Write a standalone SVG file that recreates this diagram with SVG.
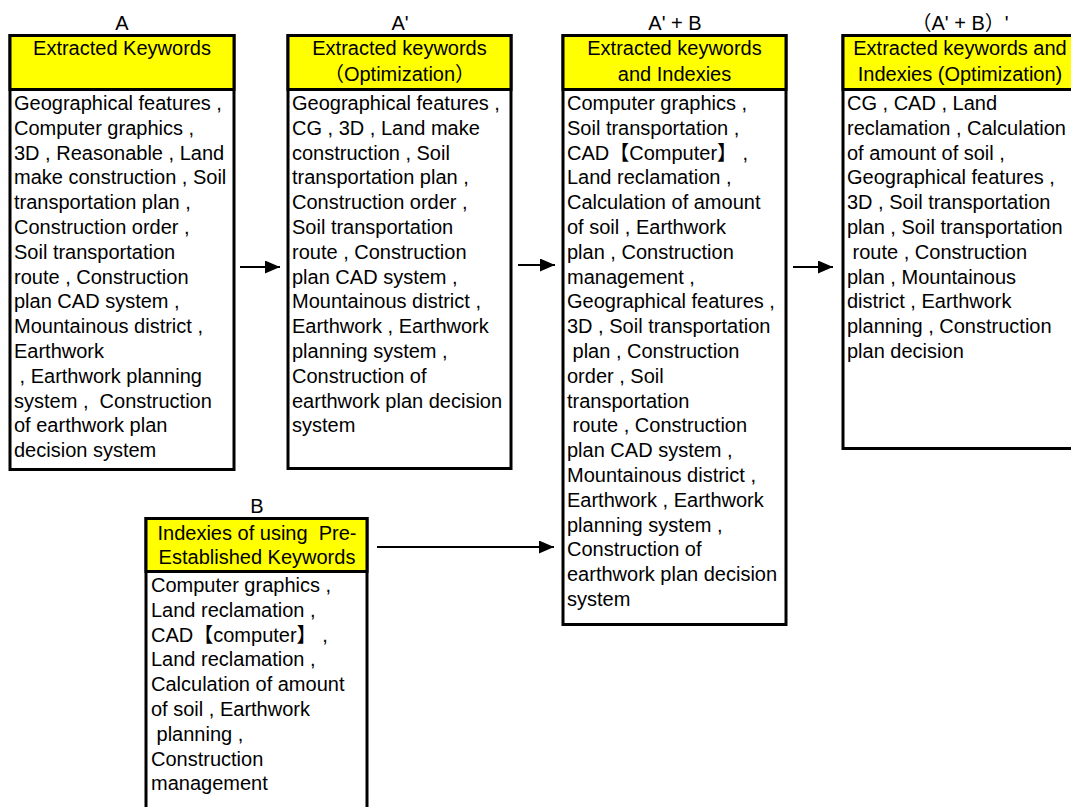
<svg xmlns="http://www.w3.org/2000/svg" width="1071" height="807" viewBox="0 0 1071 807">
<style>
text{font-family:"Liberation Sans","Noto Sans CJK JP",Arial,sans-serif;font-size:20px;fill:#000}
.t{text-anchor:middle}
.c{text-anchor:middle}
.box{fill:#fff;stroke:#000;stroke-width:3}
.hdr{fill:#ffff00;stroke:#000;stroke-width:3}
.ln{stroke:#000;stroke-width:2;fill:none}
</style>
<defs>
<marker id="ah" markerWidth="15" markerHeight="13" refX="15" refY="6.5" orient="auto" markerUnits="userSpaceOnUse">
<path d="M0,0 L15,6.5 L0,13 Z" fill="#000"/>
</marker>
</defs>
<rect width="1071" height="807" fill="#fff"/>

<g id="nodeA">
<text class="t" x="122" y="30">A</text>
<rect class="box" x="10" y="35.5" width="224" height="434"/>
<rect class="hdr" x="10" y="35.5" width="224" height="54"/>
<text class="c" x="122" y="55">Extracted Keywords</text>
<text x="14" y="110">Geographical features ,</text>
<text x="14" y="134.8">Computer graphics ,</text>
<text x="14" y="159.6">3D , Reasonable , Land</text>
<text x="14" y="184.4">make construction , Soil</text>
<text x="14" y="209.2">transportation plan ,</text>
<text x="14" y="234">Construction order ,</text>
<text x="14" y="258.8">Soil transportation</text>
<text x="14" y="283.6">route , Construction</text>
<text x="14" y="308.4">plan CAD system ,</text>
<text x="14" y="333.2">Mountainous district ,</text>
<text x="14" y="358">Earthwork</text>
<text x="14" y="382.8" xml:space="preserve"> , Earthwork planning</text>
<text x="14" y="407.6" xml:space="preserve">system ,  Construction</text>
<text x="14" y="432.4">of earthwork plan</text>
<text x="14" y="457.2">decision system</text>
</g>

<g id="nodeA1">
<text class="t" x="400" y="30">A'</text>
<rect class="box" x="288" y="35.5" width="223" height="433"/>
<rect class="hdr" x="288" y="35.5" width="223" height="54"/>
<text class="c" x="399.5" y="55">Extracted keywords</text>
<text class="c" x="399.5" y="81">（Optimization）</text>
<text x="292" y="110">Geographical features ,</text>
<text x="292" y="134.8">CG , 3D , Land make</text>
<text x="292" y="159.6">construction , Soil</text>
<text x="292" y="184.4">transportation plan ,</text>
<text x="292" y="209.2">Construction order ,</text>
<text x="292" y="234">Soil transportation</text>
<text x="292" y="258.8">route , Construction</text>
<text x="292" y="283.6">plan CAD system ,</text>
<text x="292" y="308.4">Mountainous district ,</text>
<text x="292" y="333.2">Earthwork , Earthwork</text>
<text x="292" y="358">planning system ,</text>
<text x="292" y="382.8">Construction of</text>
<text x="292" y="407.6">earthwork plan decision</text>
<text x="292" y="432.4">system</text>
</g>

<g id="nodeA1B">
<text class="t" x="675" y="30">A' + B</text>
<rect class="box" x="563" y="35.5" width="223" height="589"/>
<rect class="hdr" x="563" y="35.5" width="223" height="54"/>
<text class="c" x="674.5" y="55">Extracted keywords</text>
<text class="c" x="674.5" y="81">and Indexies</text>
<text x="567" y="110">Computer graphics ,</text>
<text x="567" y="134.8">Soil transportation ,</text>
<text x="567" y="159.6">CAD【Computer】 ,</text>
<text x="567" y="184.4">Land reclamation ,</text>
<text x="567" y="209.2">Calculation of amount</text>
<text x="567" y="234">of soil , Earthwork</text>
<text x="567" y="258.8">plan , Construction</text>
<text x="567" y="283.6">management ,</text>
<text x="567" y="308.4">Geographical features ,</text>
<text x="567" y="333.2">3D , Soil transportation</text>
<text x="567" y="358" xml:space="preserve"> plan , Construction</text>
<text x="567" y="382.8">order , Soil</text>
<text x="567" y="407.6">transportation</text>
<text x="567" y="432.4" xml:space="preserve"> route , Construction</text>
<text x="567" y="457.2">plan CAD system ,</text>
<text x="567" y="482">Mountainous district ,</text>
<text x="567" y="506.8">Earthwork , Earthwork</text>
<text x="567" y="531.6">planning system ,</text>
<text x="567" y="556.4">Construction of</text>
<text x="567" y="581.2">earthwork plan decision</text>
<text x="567" y="606">system</text>
</g>

<g id="nodeA1B1">
<text class="t" x="960" y="30">（A' + B）'</text>
<rect class="box" x="843" y="35.5" width="234" height="413"/>
<rect class="hdr" x="843" y="35.5" width="234" height="54"/>
<text class="c" x="960" y="55">Extracted keywords and</text>
<text class="c" x="960" y="81">Indexies (Optimization)</text>
<text x="847" y="110">CG , CAD , Land</text>
<text x="847" y="134.8">reclamation , Calculation</text>
<text x="847" y="159.6">of amount of soil ,</text>
<text x="847" y="184.4">Geographical features ,</text>
<text x="847" y="209.2">3D , Soil transportation</text>
<text x="847" y="234">plan , Soil transportation</text>
<text x="847" y="258.8" xml:space="preserve"> route , Construction</text>
<text x="847" y="283.6">plan , Mountainous</text>
<text x="847" y="308.4">district , Earthwork</text>
<text x="847" y="333.2">planning , Construction</text>
<text x="847" y="358">plan decision</text>
</g>

<g id="nodeB">
<text class="t" x="257" y="513">B</text>
<rect class="box" x="146" y="518.5" width="221" height="300"/>
<rect class="hdr" x="146" y="518.5" width="221" height="53"/>
<text class="c" x="257" y="540" xml:space="preserve">Indexies of using  Pre-</text>
<text class="c" x="257" y="564">Established Keywords</text>
<text x="151" y="592">Computer graphics ,</text>
<text x="151" y="616.8">Land reclamation ,</text>
<text x="151" y="641.6">CAD【computer】 ,</text>
<text x="151" y="666.4">Land reclamation ,</text>
<text x="151" y="691.2">Calculation of amount</text>
<text x="151" y="716">of soil , Earthwork</text>
<text x="151" y="740.8" xml:space="preserve"> planning ,</text>
<text x="151" y="765.6">Construction</text>
<text x="151" y="790.4">management</text>
</g>

<g id="connectors">
<line class="ln" x1="240" y1="267" x2="280" y2="267" marker-end="url(#ah)"/>
<line class="ln" x1="518" y1="265" x2="555" y2="265" marker-end="url(#ah)"/>
<line class="ln" x1="793" y1="267" x2="833" y2="267" marker-end="url(#ah)"/>
<line class="ln" x1="377" y1="547" x2="554" y2="547" marker-end="url(#ah)"/>
</g>
</svg>
